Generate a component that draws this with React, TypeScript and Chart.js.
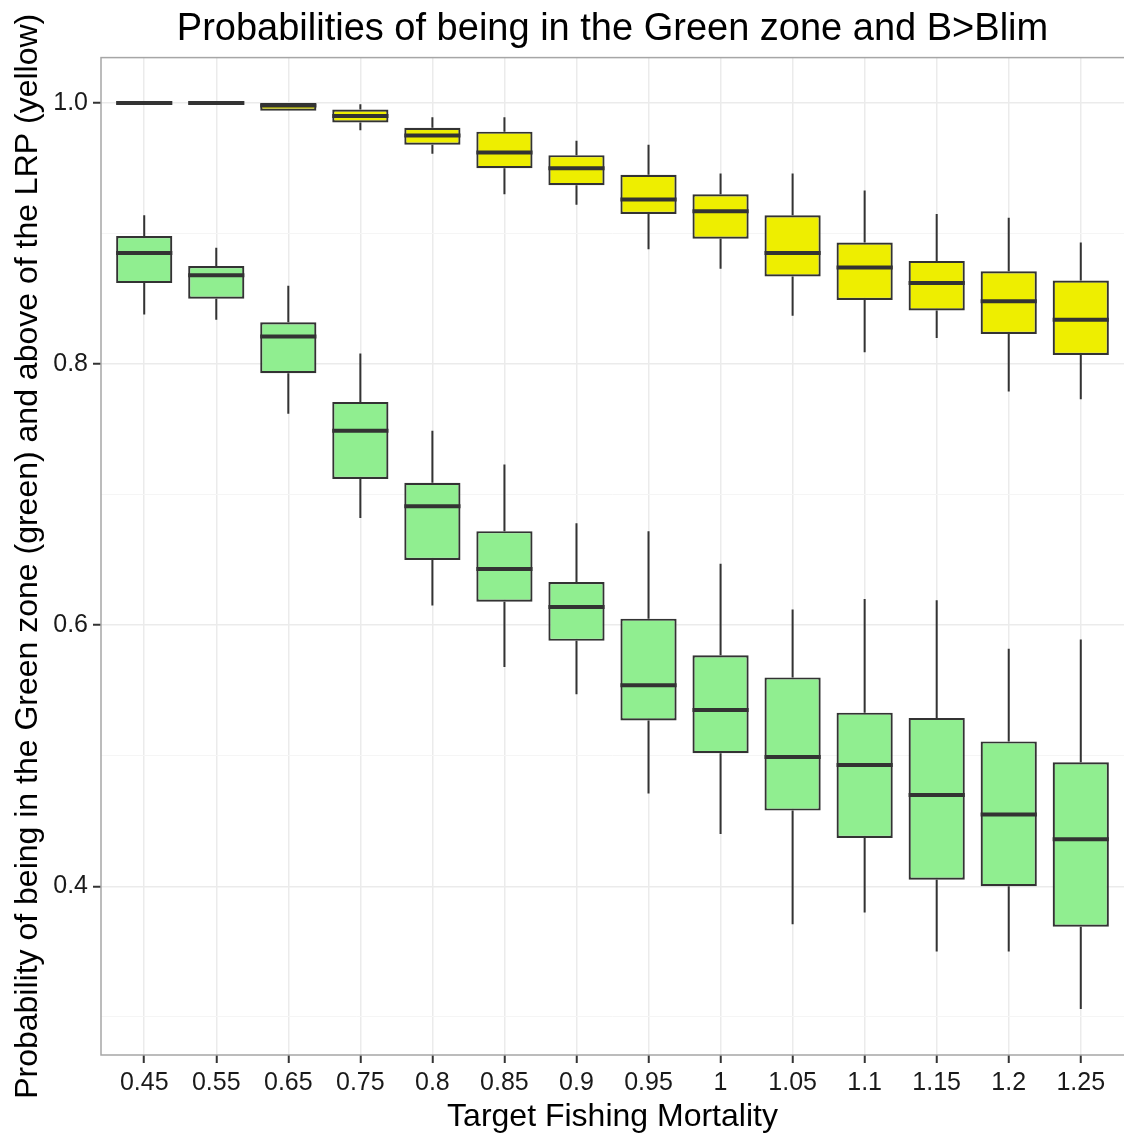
import React, { useEffect, useRef } from "react";
import { Chart, registerables } from "chart.js";

Chart.register(...registerables);

const categories = ["0.45", "0.55", "0.65", "0.75", "0.8", "0.85", "0.9", "0.95", "1", "1.05", "1.1", "1.15", "1.2", "1.25"];

// Yellow: probability of being above the LRP (B > Blim)
const lrpMin = [0.999, 0.999, 0.994, 0.979, 0.961, 0.930, 0.922, 0.888, 0.873, 0.837, 0.809, 0.820, 0.779, 0.773];
const lrpQ1 = [0.9995, 0.9995, 0.994, 0.985, 0.968, 0.950, 0.937, 0.915, 0.896, 0.867, 0.849, 0.841, 0.823, 0.807];
const lrpMedian = [1.0, 1.0, 0.998, 0.990, 0.975, 0.962, 0.950, 0.926, 0.917, 0.885, 0.874, 0.862, 0.848, 0.834];
const lrpQ3 = [1.0, 1.0, 1.0, 0.995, 0.981, 0.978, 0.960, 0.945, 0.930, 0.914, 0.893, 0.879, 0.871, 0.864];
const lrpMax = [1.0, 1.0, 1.0, 0.999, 0.989, 0.989, 0.971, 0.968, 0.946, 0.946, 0.933, 0.915, 0.912, 0.893];

// Green: probability of being in the Green zone
const greenMin = [0.838, 0.834, 0.762, 0.682, 0.615, 0.568, 0.547, 0.471, 0.440, 0.371, 0.380, 0.350, 0.350, 0.306];
const greenQ1 = [0.862, 0.850, 0.793, 0.712, 0.650, 0.618, 0.588, 0.527, 0.502, 0.458, 0.437, 0.405, 0.400, 0.369];
const greenMedian = [0.885, 0.868, 0.821, 0.749, 0.691, 0.643, 0.614, 0.554, 0.535, 0.499, 0.493, 0.470, 0.455, 0.436];
const greenQ3 = [0.898, 0.875, 0.832, 0.771, 0.709, 0.672, 0.633, 0.605, 0.577, 0.560, 0.533, 0.529, 0.511, 0.495];
const greenMax = [0.914, 0.889, 0.860, 0.808, 0.749, 0.723, 0.678, 0.672, 0.647, 0.612, 0.620, 0.619, 0.582, 0.589];

const yMajorTicks = [0.4, 0.6, 0.8, 1.0];
const yMinorTicks = [0.3, 0.5, 0.7, 0.9];

const titleText = "Probabilities of being in the Green zone and B>Blim";
const xTitle = "Target Fishing Mortality";
const yTitle = "Probability of being in the Green zone (green) and above of the LRP (yellow)";

const FONT = "'Liberation Sans', Arial, sans-serif";
const OUTLINE = "#333333";

const isMajor = (v: number) => yMajorTicks.some((m) => Math.abs(m - v) < 1e-6);

const boxSeries = [
  { min: lrpMin, median: lrpMedian, max: lrpMax },
  { min: greenMin, median: greenMedian, max: greenMax },
];

const boxPartsPlugin = {
  id: "boxParts",
  beforeDatasetsDraw(chart: any) {
    const ctx = chart.ctx;
    const yScale = chart.scales.y;
    ctx.save();
    ctx.strokeStyle = OUTLINE;
    ctx.lineWidth = 2;
    boxSeries.forEach((s, di) => {
      const meta = chart.getDatasetMeta(di);
      const ds = chart.data.datasets[di];
      meta.data.forEach((el: any, i: number) => {
        const [q1, q3] = ds.data[i].y;
        const x = el.x;
        ctx.beginPath();
        ctx.moveTo(x, yScale.getPixelForValue(s.max[i]));
        ctx.lineTo(x, yScale.getPixelForValue(q3));
        ctx.moveTo(x, yScale.getPixelForValue(q1));
        ctx.lineTo(x, yScale.getPixelForValue(s.min[i]));
        ctx.stroke();
      });
    });
    ctx.restore();
  },
  afterDatasetsDraw(chart: any) {
    const ctx = chart.ctx;
    const yScale = chart.scales.y;
    ctx.save();
    ctx.strokeStyle = OUTLINE;
    ctx.lineWidth = 4;
    ctx.lineCap = "butt";
    boxSeries.forEach((s, di) => {
      const meta = chart.getDatasetMeta(di);
      meta.data.forEach((el: any, i: number) => {
        const y = yScale.getPixelForValue(s.median[i]);
        const half = el.width / 2;
        ctx.beginPath();
        ctx.moveTo(el.x - half, y);
        ctx.lineTo(el.x + half, y);
        ctx.stroke();
      });
    });
    ctx.restore();
  },
  afterDraw(chart: any) {
    const { ctx, chartArea } = chart;
    ctx.save();
    ctx.strokeStyle = "#a6a6a6";
    ctx.lineWidth = 1.5;
    ctx.strokeRect(chartArea.left, chartArea.top, chartArea.right - chartArea.left + 2, chartArea.bottom - chartArea.top);
    ctx.restore();
  },
};

export default function App() {
  const canvasRef = useRef<HTMLCanvasElement | null>(null);

  useEffect(() => {
    if (!canvasRef.current) return;
    const chart = new Chart(canvasRef.current, {
      type: "bar",
      data: {
        datasets: [
          {
            label: "Above LRP",
            data: categories.map((_, i) => ({ x: i + 1, y: [lrpQ1[i], lrpQ3[i]] })),
            backgroundColor: "#EEEE00",
            borderColor: OUTLINE,
            borderWidth: 2.2,
            borderSkipped: false,
            grouped: false,
            barPercentage: 0.78,
            categoryPercentage: 1.0,
          } as any,
          {
            label: "Green zone",
            data: categories.map((_, i) => ({ x: i + 1, y: [greenQ1[i], greenQ3[i]] })),
            backgroundColor: "#90EE90",
            borderColor: OUTLINE,
            borderWidth: 2.2,
            borderSkipped: false,
            grouped: false,
            barPercentage: 0.78,
            categoryPercentage: 1.0,
          } as any,
        ],
      },
      options: {
        animation: false,
        responsive: false,
        maintainAspectRatio: false,
        layout: { padding: 0 },
        plugins: {
          legend: { display: false },
          tooltip: { enabled: false },
          title: {
            display: true,
            text: titleText,
            fullSize: false,
            color: "#000000",
            font: { family: FONT, size: 38, weight: "normal", lineHeight: 1.2 },
            padding: { top: 7, bottom: 5 },
          },
        },
        scales: {
          x: {
            type: "linear",
            min: 0.4,
            max: 14.6,
            offset: false,
            afterBuildTicks: (scale: any) => {
              scale.ticks = categories.map((_, i) => ({ value: i + 1 }));
            },
            afterFit: (scale: any) => {
              scale.height = 82;
            },
            ticks: {
              autoSkip: false,
              maxRotation: 0,
              minRotation: 0,
              padding: 5,
              color: "#1a1a1a",
              font: { family: FONT, size: 25, lineHeight: 1.2 },
              callback: (value: any) => categories[Math.round(Number(value)) - 1] ?? "",
            },
            grid: {
              offset: false,
              color: "#ebebeb",
              lineWidth: 1.5,
              tickColor: OUTLINE,
              tickLength: 8,
              tickWidth: 2,
            },
            border: { display: false },
            title: {
              display: true,
              text: xTitle,
              color: "#000000",
              font: { family: FONT, size: 32, lineHeight: 1.2 },
              padding: { top: 0, bottom: 1 },
            },
          },
          y: {
            type: "linear",
            min: 0.2708,
            max: 1.0347,
            afterBuildTicks: (scale: any) => {
              scale.ticks = [...yMinorTicks, ...yMajorTicks]
                .sort((a, b) => a - b)
                .map((v) => ({ value: v }));
            },
            afterFit: (scale: any) => {
              scale.width = 101;
            },
            ticks: {
              padding: 5,
              color: "#1a1a1a",
              font: { family: FONT, size: 25, lineHeight: 1.2 },
              callback: (value: any) => (isMajor(Number(value)) ? Number(value).toFixed(1) : ""),
            },
            grid: {
              color: (ctx: any) => (isMajor(ctx.tick?.value ?? 0) ? "#ebebeb" : "#f5f5f5"),
              lineWidth: (ctx: any) => (isMajor(ctx.tick?.value ?? 0) ? 1.5 : 1),
              tickColor: (ctx: any) => (isMajor(ctx.tick?.value ?? 0) ? OUTLINE : "rgba(0,0,0,0)"),
              tickLength: 8,
              tickWidth: 2,
            },
            border: { display: false },
            title: {
              display: true,
              text: yTitle,
              color: "#000000",
              font: { family: FONT, size: 32, lineHeight: 1.2 },
              padding: { top: 9, bottom: 0 },
            },
          },
        },
      },
      plugins: [boxPartsPlugin],
    });
    return () => chart.destroy();
  }, []);

  return (
    <div style={{ position: "fixed", left: 0, top: 0, width: 1124, height: 1137, background: "#ffffff" }}>
      <canvas ref={canvasRef} width={1124} height={1137} style={{ display: "block", width: 1124, height: 1137 }} />
    </div>
  );
}
